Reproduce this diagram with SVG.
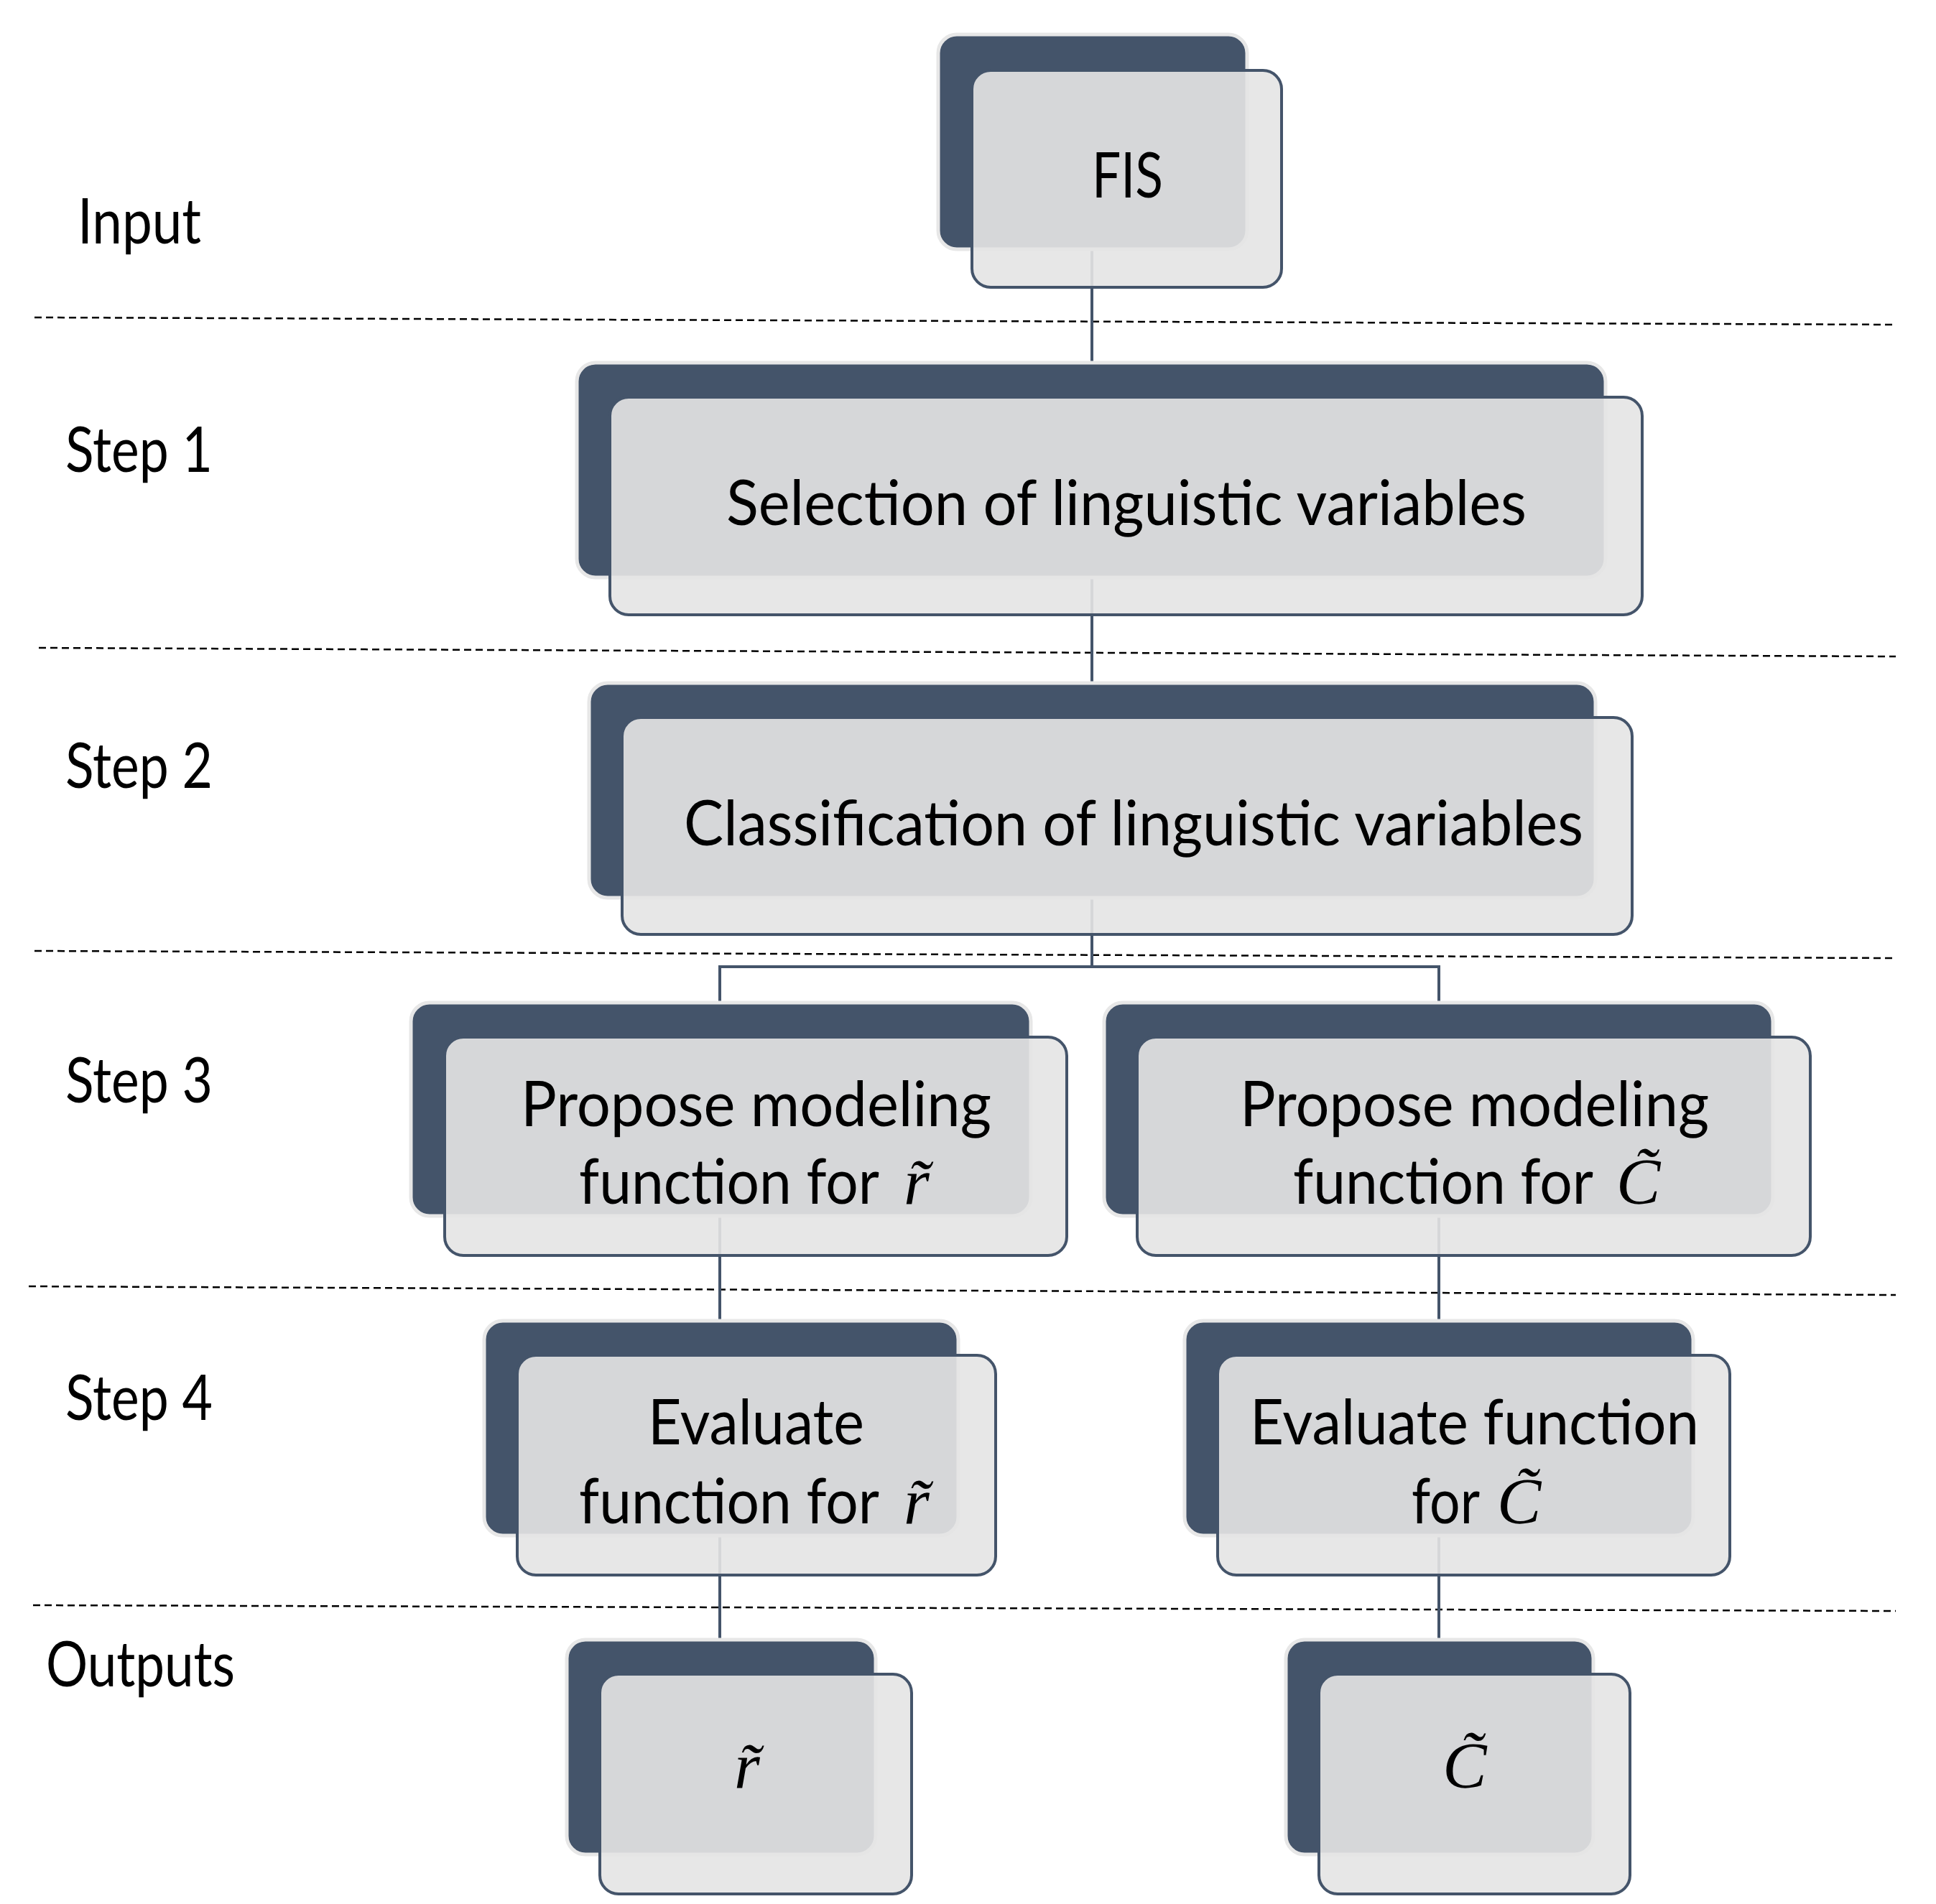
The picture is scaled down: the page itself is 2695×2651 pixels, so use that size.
<svg xmlns="http://www.w3.org/2000/svg" width="2695" height="2651" viewBox="0 0 2695 2651">
<style>
.bk{fill:#44546a;stroke:#e7e7e7;stroke-width:5}
.fr{fill:#e5e5e5;fill-opacity:0.91;stroke:#44546a;stroke-width:4}
.t{font-family:Lato,"Open Sans",sans-serif;font-size:88px;fill:#000}
.v{font-family:"Liberation Serif",serif;font-style:italic;font-size:92px;fill:#000}
.d{stroke:#000;stroke-width:2.5;stroke-dasharray:10 6;fill:none}
.c{stroke:#44546a;stroke-width:4;fill:none}
</style>
<rect width="2695" height="2651" fill="#fff"/>
<g id="separators">
<path class="d" d="M48 442L2639 452"/>
<path class="d" d="M54 902L2639 914"/>
<path class="d" d="M48 1324L2639 1334"/>
<path class="d" d="M40 1791L2639 1803"/>
<path class="d" d="M46 2235L2639 2243"/>
</g>
<g id="labels">
<text class="t" x="108" y="339" textLength="172" lengthAdjust="spacingAndGlyphs">Input</text>
<text class="t" x="91" y="657" textLength="205" lengthAdjust="spacingAndGlyphs">Step 1</text>
<text class="t" x="91" y="1097" textLength="205" lengthAdjust="spacingAndGlyphs">Step 2</text>
<text class="t" x="91" y="1535" textLength="205" lengthAdjust="spacingAndGlyphs">Step 3</text>
<text class="t" x="91" y="1977" textLength="205" lengthAdjust="spacingAndGlyphs">Step 4</text>
<text class="t" x="64" y="2348" textLength="263" lengthAdjust="spacingAndGlyphs">Outputs</text>
</g>
<g id="connectors">
<path class="c" d="M1520 347V505"/>
<path class="c" d="M1520 804V951"/>
<path class="c" d="M1520 1250V1346M1002 1396V1346H2003V1396"/>
<path class="c" d="M1002 1693V1839"/>
<path class="c" d="M2003 1693V1839"/>
<path class="c" d="M1002 2138V2283"/>
<path class="c" d="M2003 2138V2283"/>
</g>
<g id="fis">
<rect class="bk" x="1306" y="48" width="430" height="299" rx="26"/>
<rect class="fr" x="1353" y="98" width="431" height="302" rx="26"/>
<text class="t" x="1520" y="275" textLength="99" lengthAdjust="spacingAndGlyphs">FIS</text>
</g>
<g id="step1">
<rect class="bk" x="803" y="505" width="1432" height="299" rx="26"/>
<rect class="fr" x="849" y="553" width="1437" height="303" rx="26"/>
<text class="t" x="1011" y="731" textLength="1114" lengthAdjust="spacingAndGlyphs">Selection of linguistic variables</text>
</g>
<g id="step2">
<rect class="bk" x="820" y="951" width="1401" height="299" rx="26"/>
<rect class="fr" x="866" y="999" width="1406" height="302" rx="26"/>
<text class="t" x="952" y="1177" textLength="1252" lengthAdjust="spacingAndGlyphs">Classification of linguistic variables</text>
</g>
<g id="step3-r">
<rect class="bk" x="572" y="1396" width="863" height="297" rx="26"/>
<rect class="fr" x="619" y="1444" width="866" height="304" rx="26"/>
<text class="t" x="725" y="1568" textLength="655" lengthAdjust="spacingAndGlyphs">Propose modeling</text>
<text class="t" x="806" y="1676" textLength="418" lengthAdjust="spacingAndGlyphs">function for</text>
<text class="v" x="1258" y="1676">r̃</text>
</g>
<g id="step3-c">
<rect class="bk" x="1537" y="1396" width="931" height="297" rx="26"/>
<rect class="fr" x="1583" y="1444" width="937" height="304" rx="26"/>
<text class="t" x="1726" y="1568" textLength="653" lengthAdjust="spacingAndGlyphs">Propose modeling</text>
<text class="t" x="1800" y="1676" textLength="418" lengthAdjust="spacingAndGlyphs">function for</text>
<text class="v" x="2250" y="1676">C̃</text>
</g>
<g id="step4-r">
<rect class="bk" x="674" y="1839" width="660" height="299" rx="26"/>
<rect class="fr" x="720" y="1887" width="666" height="306" rx="26"/>
<text class="t" x="902" y="2011" textLength="301" lengthAdjust="spacingAndGlyphs">Evaluate</text>
<text class="t" x="806" y="2121" textLength="418" lengthAdjust="spacingAndGlyphs">function for</text>
<text class="v" x="1258" y="2121">r̃</text>
</g>
<g id="step4-c">
<rect class="bk" x="1649" y="1839" width="708" height="299" rx="26"/>
<rect class="fr" x="1695" y="1887" width="713" height="306" rx="26"/>
<text class="t" x="1740" y="2011" textLength="625" lengthAdjust="spacingAndGlyphs">Evaluate function</text>
<text class="t" x="1965" y="2121" textLength="95" lengthAdjust="spacingAndGlyphs">for</text>
<text class="v" x="2084" y="2121">C̃</text>
</g>
<g id="out-r">
<rect class="bk" x="789" y="2283" width="430" height="299" rx="26"/>
<rect class="fr" x="835" y="2331" width="434" height="306" rx="26"/>
<text class="v" x="1040" y="2489" text-anchor="middle">r̃</text>
</g>
<g id="out-c">
<rect class="bk" x="1790" y="2283" width="428" height="299" rx="26"/>
<rect class="fr" x="1836" y="2331" width="433" height="306" rx="26"/>
<text class="v" x="2039" y="2489" text-anchor="middle">C̃</text>
</g>
</svg>
